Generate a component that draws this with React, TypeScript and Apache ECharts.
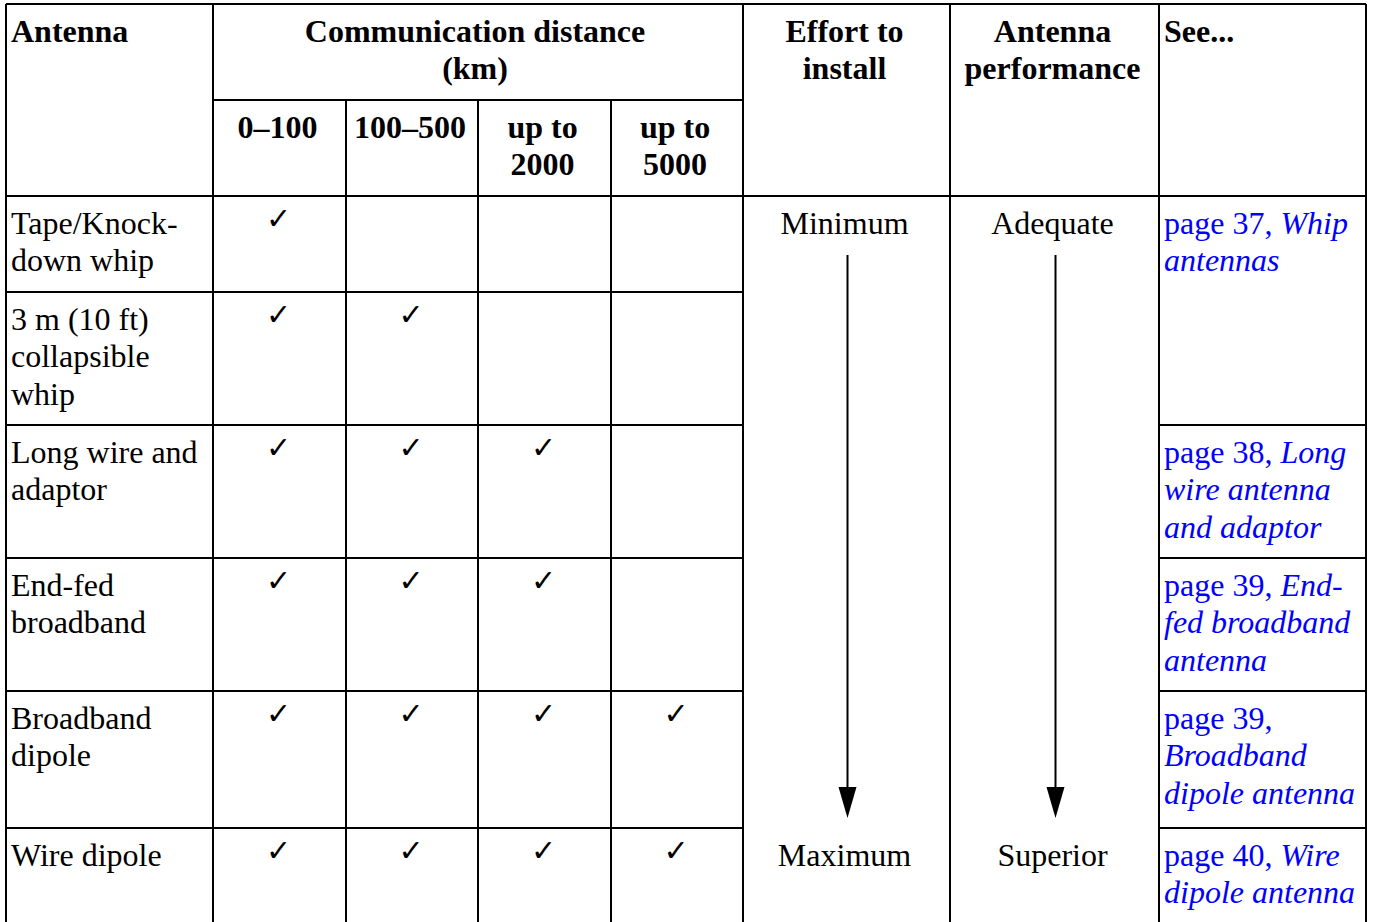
import React, { useEffect, useRef } from "react";
import * as echarts from "echarts";

const antennas = [
  "Tape/Knock-\ndown whip",
  "3 m (10 ft)\ncollapsible\nwhip",
  "Long wire and\nadaptor",
  "End-fed\nbroadband",
  "Broadband\ndipole",
  "Wire dipole",
];
const distanceHeader = "Communication distance\n(km)";
const distanceBands = ["0–100", "100–500", "up to\n2000", "up to\n5000"];
// number of distance bands covered (checkmarks) per antenna
const bandsCovered = [1, 2, 3, 3, 4, 4];
const effortHeader = "Effort to\ninstall";
const effortRange = ["Minimum", "Maximum"];
const performanceHeader = "Antenna\nperformance";
const performanceRange = ["Adequate", "Superior"];
const firstHeader = "Antenna";
const seeHeader = "See...";
// reference cell lines: [plain prefix, italic part] per line; row index of the cell start
const refRows = [0, 2, 3, 4, 5];
const refLines: [string, string][][] = [
  [["page 37, ", "Whip"], ["", "antennas"]],
  [["page 38, ", "Long"], ["", "wire antenna"], ["", "and adaptor"]],
  [["page 39, ", "End-"], ["", "fed broadband"], ["", "antenna"]],
  [["page 39,", ""], ["", "Broadband"], ["", "dipole antenna"]],
  [["page 40, ", "Wire"], ["", "dipole antenna"]],
];

const FONT = "'Liberation Serif', 'Times New Roman', serif";
const FS = 32;
const LH = 37.5;
const BLUE = "#0000ff";

export default function App() {
  const ref = useRef<HTMLDivElement>(null);
  useEffect(() => {
    if (!ref.current) return;
    const chart = echarts.init(ref.current, null, { renderer: "svg" });

    const L = 6, R = 1366, T = 4, B = 922;
    const colX = [L, 213, 346, 478, 611, 743, 950, 1159, R];
    const subY = 100;
    const headY = 196;
    const rowY = [196, 292, 425, 558, 691, 828, B];

    const els: any[] = [];
    const line = (x1: number, y1: number, x2: number, y2: number) =>
      els.push({
        type: "line",
        shape: { x1, y1, x2, y2 },
        style: { stroke: "#000", lineWidth: 2 },
        z: 10,
      });
    const text = (
      s: string,
      x: number,
      y: number,
      align: string,
      bold = false,
      extra: any = {}
    ) =>
      els.push({
        type: "text",
        x,
        y,
        style: {
          text: s,
          fontFamily: FONT,
          fontSize: FS,
          fontWeight: bold ? "bold" : "normal",
          fill: "#000",
          align,
          verticalAlign: "top",
          lineHeight: LH,
          ...extra,
        },
      });

    // outer & vertical lines
    line(L, T, R, T);
    line(L, T, L, B);
    line(R, T, R, B);
    [213, 743, 950, 1159].forEach((x) => line(x, T, x, B));
    [346, 478, 611].forEach((x) => line(x, subY, x, B));
    line(213, subY, 743, subY);
    line(L, headY, R, headY);
    // row separators in the main columns
    rowY.slice(1, -1).forEach((y) => line(L, y, 743, y));
    // row separators in the reference column (merged cells)
    refRows.slice(1).forEach((r) => line(1159, rowY[r], R, rowY[r]));

    // headers
    text(firstHeader, 11, T + 8, "left", true);
    text(distanceHeader, (213 + 743) / 2 - 3, T + 8, "center", true);
    text(effortHeader, (743 + 950) / 2 - 2, T + 8, "center", true);
    text(performanceHeader, (950 + 1159) / 2 - 2, T + 8, "center", true);
    text(seeHeader, 1164, T + 8, "left", true);
    distanceBands.forEach((b, i) =>
      text(b, (colX[i + 1] + colX[i + 2]) / 2 - 2, subY + 8, "center", true)
    );

    // body
    antennas.forEach((a, r) => {
      text(a, 11, rowY[r] + 8, "left");
      for (let c = 0; c < bandsCovered[r]; c++) {
        els.push({
          type: "text",
          x: (colX[c + 1] + colX[c + 2]) / 2 - 1,
          y: rowY[r] + 5,
          style: {
            text: "✓",
            fontFamily: "'DejaVu Sans', sans-serif",
            fontSize: 30,
            fill: "#000",
            align: "center",
            verticalAlign: "top",
            lineHeight: 34,
          },
        });
      }
    });

    // effort & performance
    const effX = (743 + 950) / 2;
    const perfX = (950 + 1159) / 2 + 1;
    text(effortRange[0], effX - 2, rowY[0] + 8, "center");
    text(effortRange[1], effX - 2, rowY[5] + 8, "center");
    text(performanceRange[0], perfX - 3, rowY[0] + 8, "center");
    text(performanceRange[1], perfX - 3, rowY[5] + 8, "center");
    [effX + 1, perfX].forEach((x) => {
      els.push({
        type: "line",
        shape: { x1: x, y1: 255, x2: x, y2: 792 },
        style: { stroke: "#000", lineWidth: 2 },
      });
      els.push({
        type: "polygon",
        shape: { points: [[x - 9, 787], [x + 9, 787], [x, 818]] },
        style: { fill: "#000" },
      });
    });

    // references
    refLines.forEach((lines, i) => {
      const r = refRows[i];
      const s = lines
        .map(([p, it]) => (p ? `{n|${p}}` : "") + (it ? `{i|${it}}` : ""))
        .join("\n");
      els.push({
        type: "text",
        x: 1164,
        y: rowY[r] + 8,
        style: {
          text: s,
          fontFamily: FONT,
          fontSize: FS,
          fill: BLUE,
          align: "left",
          verticalAlign: "top",
          lineHeight: LH,
          rich: {
            n: { fontFamily: FONT, fontSize: FS, fill: BLUE, lineHeight: LH },
            i: {
              fontFamily: FONT,
              fontSize: FS,
              fontStyle: "italic",
              fill: BLUE,
              lineHeight: LH,
            },
          },
        },
      });
    });

    chart.setOption({
      animation: false,
      backgroundColor: "#fff",
      graphic: { elements: els },
    });
    return () => chart.dispose();
  }, []);

  return (
    <div
      ref={ref}
      style={{ position: "absolute", left: 0, top: 0, width: 1374, height: 922 }}
    />
  );
}
